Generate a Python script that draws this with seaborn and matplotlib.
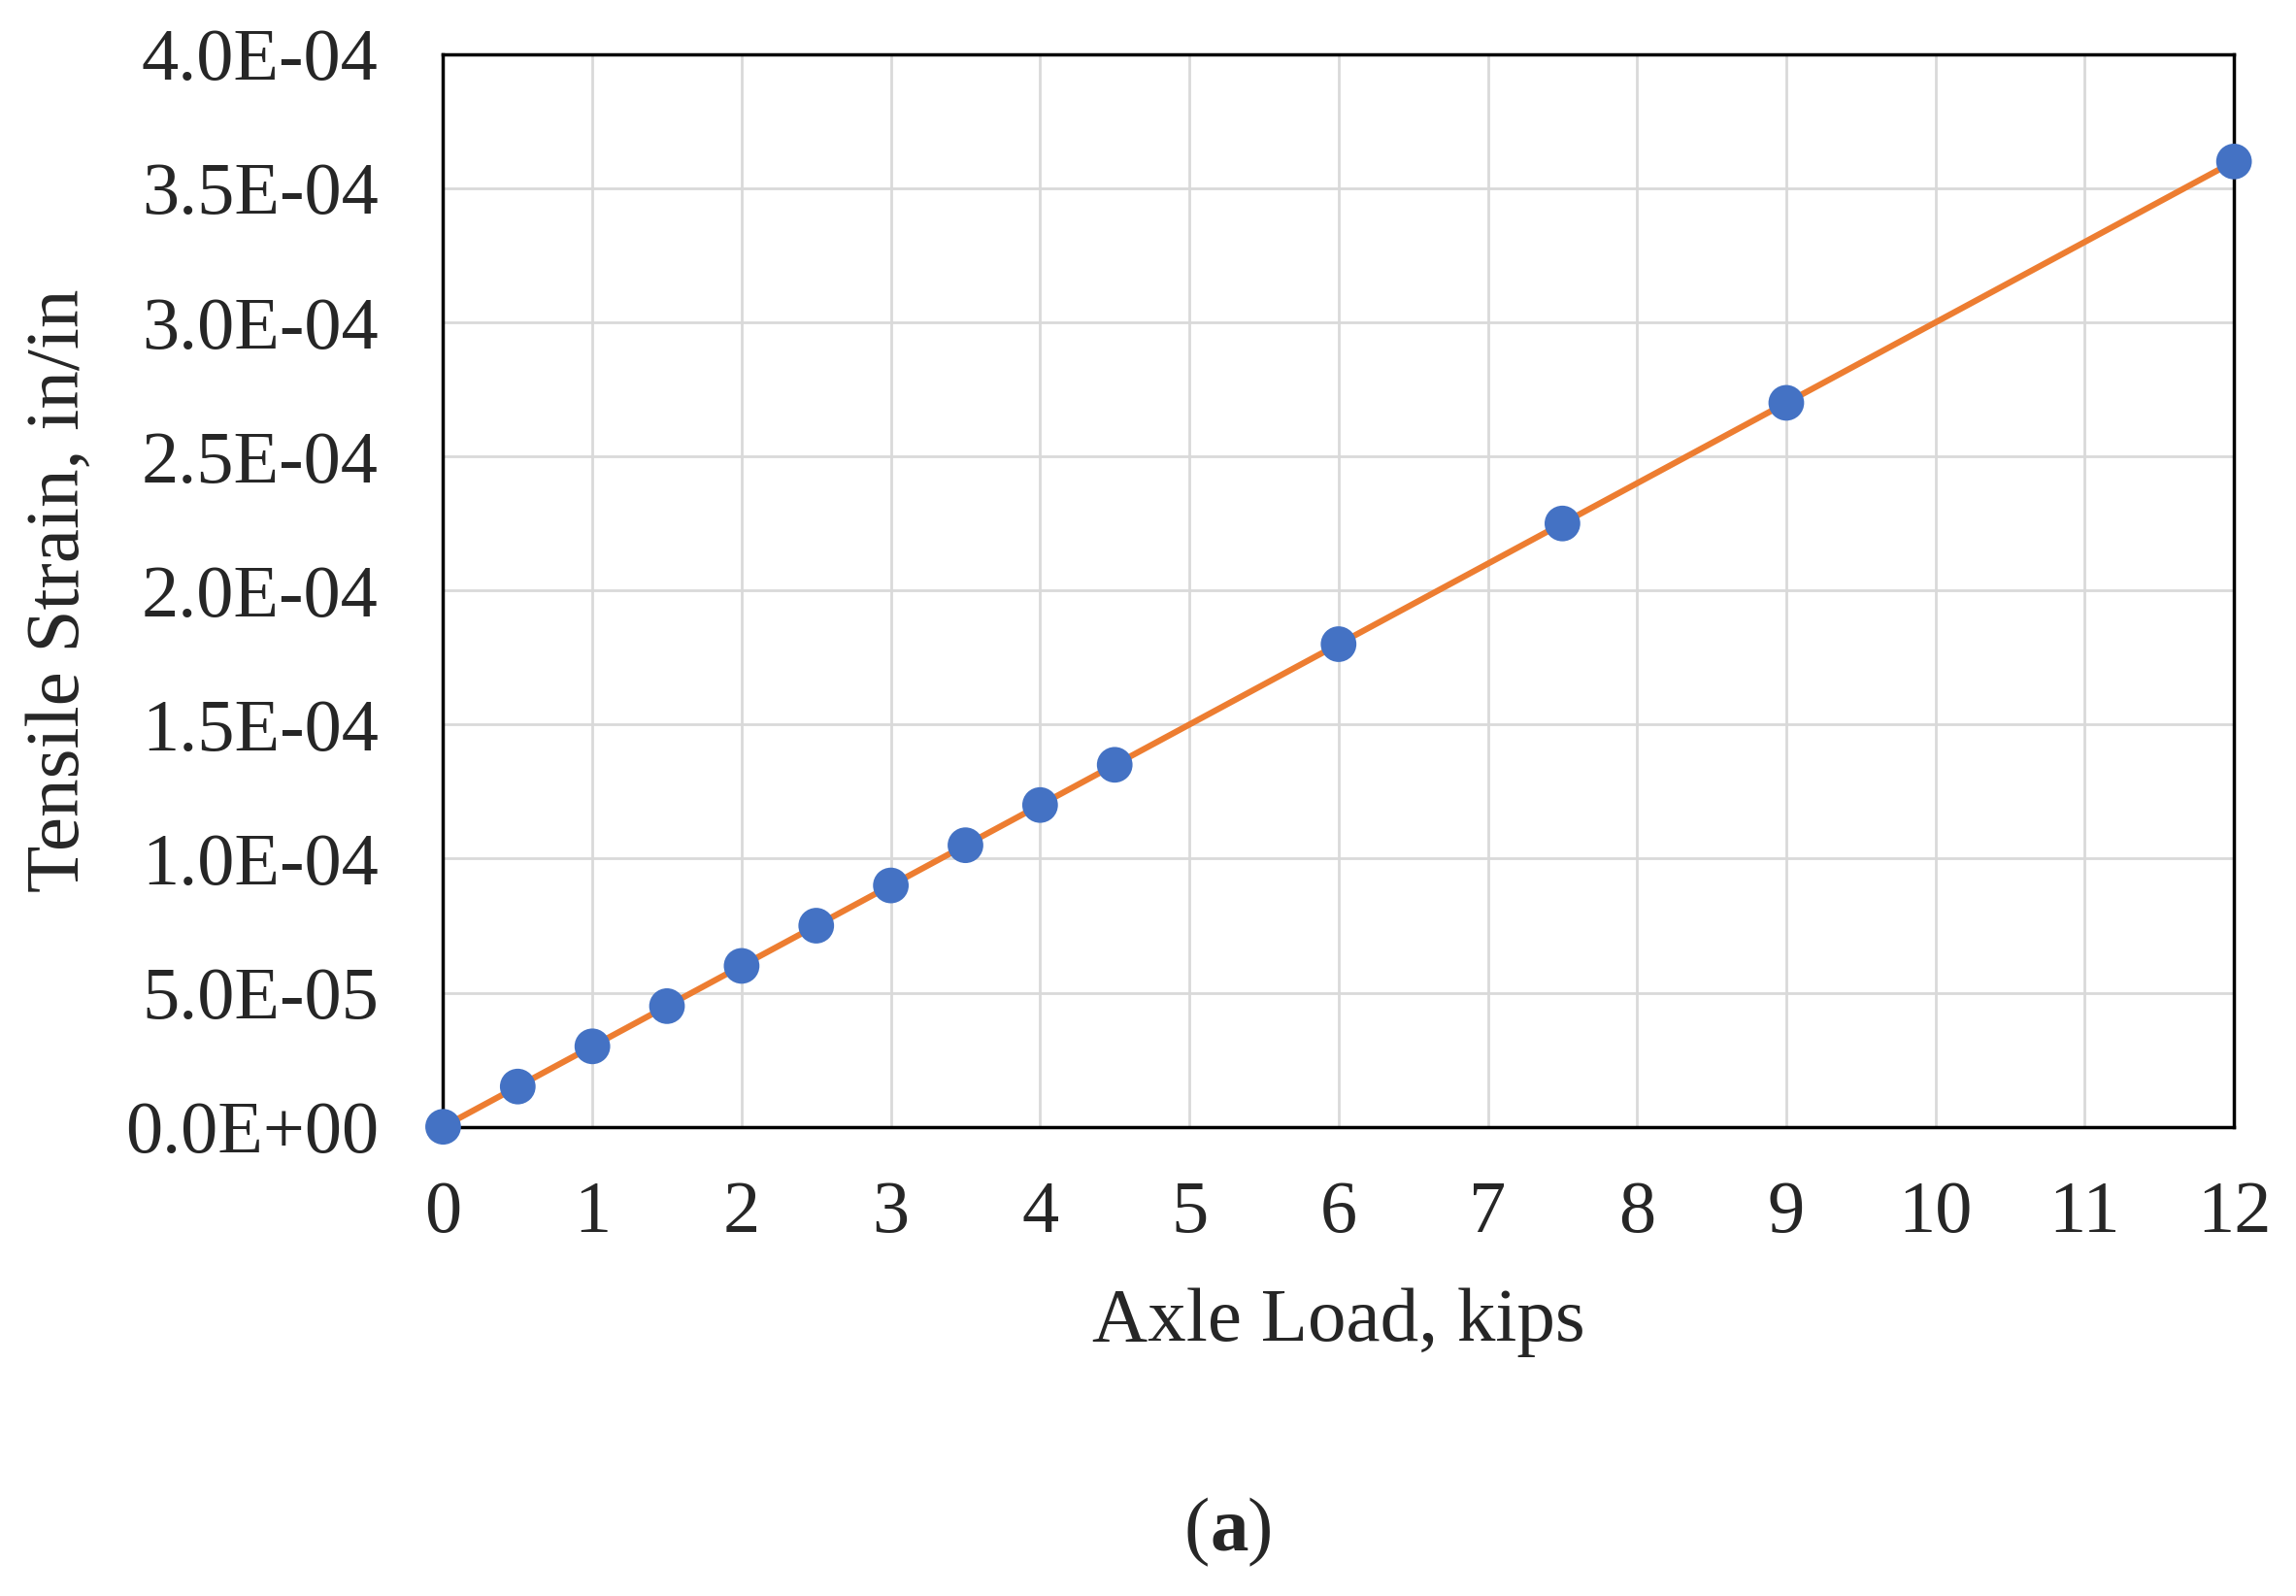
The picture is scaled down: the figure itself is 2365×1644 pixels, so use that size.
import matplotlib
matplotlib.use("Agg")
import matplotlib.pyplot as plt
import seaborn as sns
import pandas as pd
from matplotlib.ticker import FuncFormatter, MultipleLocator

# values
axle_load = [0, 0.5, 1, 1.5, 2, 2.5, 3, 3.5, 4, 4.5, 6, 7.5, 9, 12]
tensile_strain = [0.0, 1.5e-5, 3.0e-5, 4.5e-5, 6.0e-5, 7.5e-5, 9.0e-5, 1.05e-4,
                  1.2e-4, 1.35e-4, 1.8e-4, 2.25e-4, 2.7e-4, 3.6e-4]

df = pd.DataFrame({"load": axle_load, "strain": tensile_strain})

sns.set_style("white")
plt.rcParams['font.family'] = ['Liberation Serif', 'DejaVu Serif']

fig = plt.figure(figsize=(23.65, 16.44), dpi=100)
ax = fig.add_axes([0.193, 0.294, 0.780, 0.672])

sns.lineplot(data=df, x="load", y="strain", color="#ED7D31", linewidth=4.5, ax=ax, zorder=2)
sns.scatterplot(data=df, x="load", y="strain", color="#4472C4", s=700, edgecolor="none", ax=ax, zorder=3, clip_on=False)

ax.set_xlim(0, 12)
ax.set_ylim(0, 4.0e-4)
ax.xaxis.set_major_locator(MultipleLocator(1))
ax.yaxis.set_major_locator(MultipleLocator(5e-5))


def sci(v, pos):
    s = f"{v:.1E}"
    mant, exp = s.split("E")
    sign = exp[0]
    return f"{mant}E{sign}{abs(int(exp)):02d}"


ax.yaxis.set_major_formatter(FuncFormatter(sci))
ax.grid(True, color="#D9D9D9", linewidth=2)
ax.set_axisbelow(True)
for sp in ax.spines.values():
    sp.set_color("black")
    sp.set_linewidth(2.5)

ax.tick_params(axis="both", labelsize=55, length=0, colors="#262626")
ax.tick_params(axis="x", pad=40)
ax.tick_params(axis="y", pad=48)
ax.set_xlabel("Axle Load, kips", fontsize=57, labelpad=30, color="#262626")
ax.set_ylabel("Tensile Strain, in/in", fontsize=57, labelpad=22, color="#262626")

fig.text(0.527, 0.04, "(", fontsize=57, ha="right", va="center")
fig.text(0.527, 0.04, "a", fontsize=57, ha="left", va="center", fontweight="bold")
fig.text(0.543, 0.04, ")", fontsize=57, ha="left", va="center")

fig.savefig("out.png", dpi=100)
